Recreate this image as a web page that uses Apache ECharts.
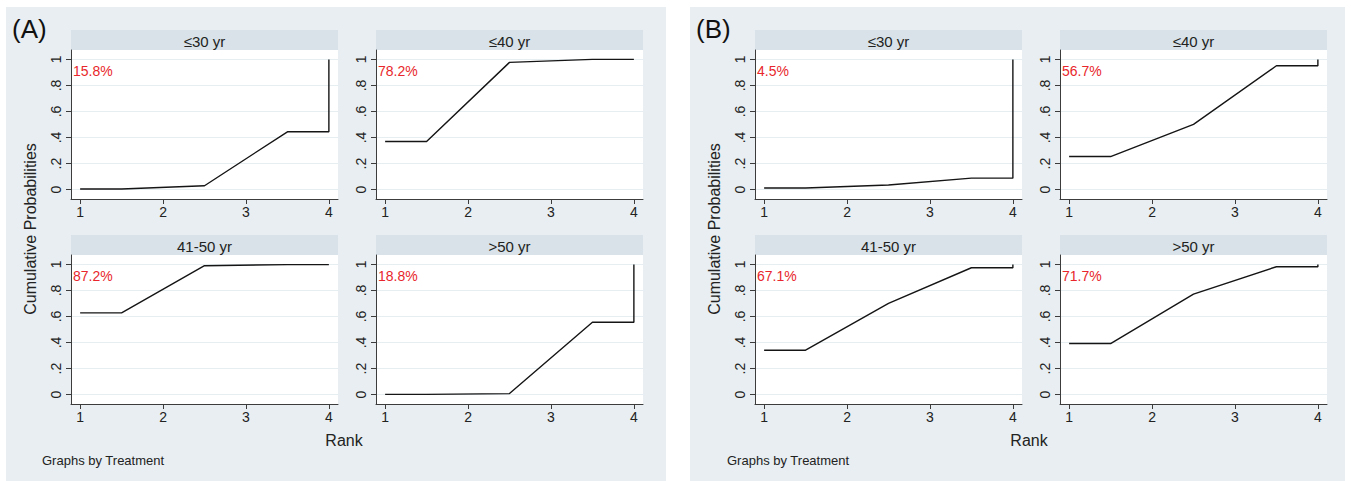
<!DOCTYPE html>
<html>
<head>
<meta charset="utf-8">
<script src="https://cdn.jsdelivr.net/npm/echarts@6/dist/echarts.min.js"></script>
<style>
html, body { margin: 0; padding: 0; background: #fff; }
#chart { width: 1351px; height: 481px; }
</style>
</head>
<body>
<div id="chart"></div>
<script>
// ---- data ----
const panelLabels = ['(A)', '(B)'];
const stripTitles = ['≤30 yr', '≤40 yr', '41-50 yr', '>50 yr'];
const rankTicks = [1, 2, 3, 4];
const probTicks = [0, 0.2, 0.4, 0.6, 0.8, 1];
const probTickLabels = ['0', '.2', '.4', '.6', '.8', '1'];
// x of the drawn path and which rank value each point takes
const pathRanks = [1, 1.5, 2.5, 3.5, 4, 4];
const pathIndex = [0, 0, 1, 2, 2, 3];
// cumulative probability of rank 1..4, per age group
const cumA = [
  [0.005, 0.030, 0.444, 1],
  [0.370, 0.977, 1.000, 1],
  [0.628, 0.990, 0.998, 1],
  [0.002, 0.008, 0.556, 1]
];
const cumB = [
  [0.012, 0.035, 0.088, 1],
  [0.254, 0.501, 0.951, 1],
  [0.341, 0.700, 0.974, 1],
  [0.392, 0.772, 0.982, 1]
];
const sucraA = ['15.8%', '78.2%', '87.2%', '18.8%'];
const sucraB = ['4.5%', '56.7%', '67.1%', '71.7%'];

// ---- layout ----
const FONT = '"Liberation Sans", Arial, sans-serif';
const colLeft = [71, 376, 755, 1060];
const plotW = 267;
const rowTop = [50, 255];
const plotH = 149;
const stripTop = [30, 235];
const stripH = 20;
const panelBg = [[6, 7, 660, 474], [690, 7, 655, 474]];
const panelX = [0, 684];

const chart = echarts.init(document.getElementById('chart'), null, { renderer: 'svg' });

const grids = [], xAxes = [], yAxes = [], series = [];
const graphics = [];

panelBg.forEach(b => {
  graphics.push({
    type: 'rect', z: -10, silent: true,
    shape: { x: b[0], y: b[1], width: b[2], height: b[3] },
    style: { fill: '#e8eef1' }
  });
});

[cumA, cumB].forEach((cum, p) => {
  const sucra = p === 0 ? sucraA : sucraB;
  cum.forEach((vals, c) => {
    const i = p * 4 + c;
    const left = colLeft[p * 2 + (c % 2)];
    const r = Math.floor(c / 2);
    grids.push({
      left: left, top: rowTop[r], width: plotW, height: plotH,
      show: true, backgroundColor: '#ffffff', borderWidth: 0
    });
    xAxes.push({
      type: 'value', gridIndex: i, min: 0.89, max: 4.11,
      axisLine: { show: true, onZero: false, lineStyle: { color: '#3c3c3c', width: 1 } },
      axisTick: { show: true, length: 5, customValues: rankTicks, lineStyle: { color: '#3c3c3c' } },
      axisLabel: { customValues: rankTicks, margin: 6, color: '#222', fontSize: 14, fontFamily: FONT },
      splitLine: { show: false }
    });
    yAxes.push({
      type: 'value', gridIndex: i, min: -0.072, max: 1.072,
      axisLine: { show: true, onZero: false, lineStyle: { color: '#3c3c3c', width: 1 } },
      axisTick: { show: true, length: 5, customValues: probTicks, lineStyle: { color: '#3c3c3c' } },
      axisLabel: {
        customValues: probTicks, rotate: 90, margin: 8, color: '#222', fontSize: 14, fontFamily: FONT,
        formatter: v => probTickLabels[Math.round(v * 5)]
      },
      splitLine: { show: true, lineStyle: { color: '#e6eef1', width: 1 } }
    });
    series.push({
      type: 'line', xAxisIndex: i, yAxisIndex: i,
      showSymbol: false, silent: true, animation: false,
      lineStyle: { color: '#151515', width: 1.4 },
      data: pathRanks.map((x, k) => [x, vals[pathIndex[k]]])
    });
    // strip header
    graphics.push({
      type: 'rect', silent: true,
      shape: { x: left, y: stripTop[r], width: plotW, height: stripH },
      style: { fill: '#d8e2e8' }
    });
    graphics.push({
      type: 'text', silent: true,
      x: left + plotW / 2, y: stripTop[r] + stripH / 2 + 1,
      style: { text: stripTitles[c], fill: '#222', font: '15px ' + FONT, align: 'center', verticalAlign: 'middle' }
    });
    // SUCRA value
    graphics.push({
      type: 'text', silent: true, z: 10,
      x: left + 2, y: rowTop[r] + 21,
      style: { text: sucra[c], fill: '#e8262b', font: '14px ' + FONT, align: 'left', verticalAlign: 'middle' }
    });
  });

  const dx = panelX[p];
  graphics.push({
    type: 'text', silent: true, x: 12 + dx, y: 29,
    style: { text: panelLabels[p], fill: '#111', font: '26px ' + FONT, align: 'left', verticalAlign: 'middle' }
  });
  graphics.push({
    type: 'text', silent: true, x: 30 + dx, y: 229, rotation: Math.PI / 2,
    style: { text: 'Cumulative Probabilities', fill: '#222', font: '16px ' + FONT, align: 'center', verticalAlign: 'middle' }
  });
  graphics.push({
    type: 'text', silent: true, x: (p === 0 ? 344 : 1029), y: 440,
    style: { text: 'Rank', fill: '#222', font: '16px ' + FONT, align: 'center', verticalAlign: 'middle' }
  });
  graphics.push({
    type: 'text', silent: true, x: (p === 0 ? 42 : 727), y: 460,
    style: { text: 'Graphs by Treatment', fill: '#222', font: '13px ' + FONT, align: 'left', verticalAlign: 'middle' }
  });
});

chart.setOption({
  animation: false,
  backgroundColor: '#ffffff',
  grid: grids,
  xAxis: xAxes,
  yAxis: yAxes,
  series: series,
  graphic: { elements: graphics }
});
</script>
</body>
</html>
